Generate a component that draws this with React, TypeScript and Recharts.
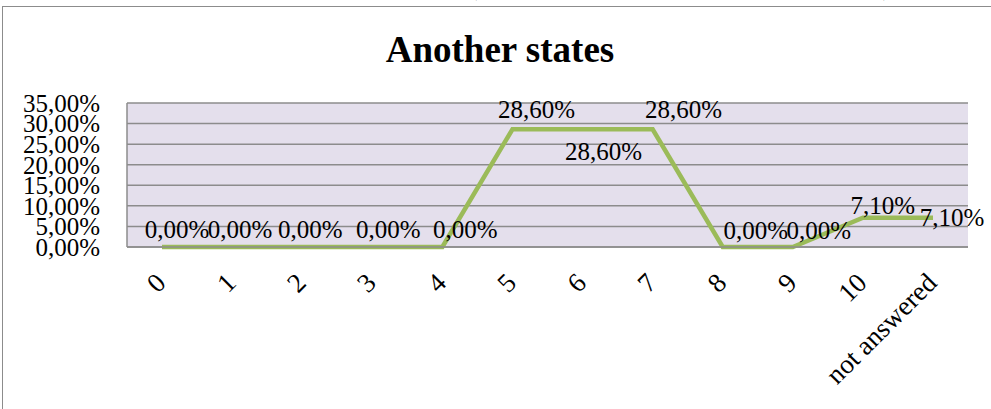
import { LineChart, Line, XAxis, YAxis, CartesianGrid, LabelList } from 'recharts'

const categories = ['0', '1', '2', '3', '4', '5', '6', '7', '8', '9', '10', 'not answered']
const shares = [0, 0, 0, 0, 0, 0.286, 0.286, 0.286, 0, 0, 0.071, 0.071]
const yTicks = [0, 0.05, 0.1, 0.15, 0.2, 0.25, 0.3, 0.35]

const data = categories.map((category, i) => ({ category, share: shares[i] }))

const FONT = '"Liberation Serif", "Times New Roman", serif'
const GRID = '#8c8c8c'

const pct = (v: number) => (v * 100).toFixed(2).replace('.', ',') + '%'

// Excel nudged the data labels around so they'd (mostly) not collide
const labelShift: [number, number][] = [
  [15, -18], [8, -18], [8, -18], [16, -18], [23, -18],
  [24, -20], [21, 22], [31, -20],
  [33, -17], [26, -17], [20, -12], [19, 0],
]

function PointLabel(props: any) {
  const { x, y, value, index } = props
  const [dx, dy] = labelShift[index] ?? [0, -18]
  return (
    <text
      x={x + dx}
      y={y + dy}
      textAnchor="middle"
      dominantBaseline="central"
      fontFamily={FONT}
      fontSize={25}
      fill="#000"
    >
      {pct(value)}
    </text>
  )
}

function SlantTick(props: any) {
  const { x, y, payload } = props
  const ax = x - 1
  const ay = y + 3
  return (
    <text
      x={ax}
      y={ay}
      transform={`rotate(-45, ${ax}, ${ay})`}
      textAnchor="end"
      dominantBaseline="central"
      fontFamily={FONT}
      fontSize={27}
      fill="#000"
    >
      {payload.value}
    </text>
  )
}

export default function App() {
  return (
    <div
      style={{
        position: 'absolute',
        left: 0,
        top: 0,
        width: 991,
        height: 409,
        overflow: 'hidden',
        background: '#fff',
      }}
    >
      {/* frame of the embedded chart object */}
      <div
        style={{
          position: 'absolute',
          left: 2,
          top: 6,
          width: 1100,
          height: 500,
          border: `1.5px solid ${GRID}`,
        }}
      />
      <svg
        width={991}
        height={409}
        style={{ position: 'absolute', left: 0, top: 0, overflow: 'visible' }}
      >
        <text x={40} y={-5} fontFamily={FONT} fontSize={25} fill="#000">
          students of engineering of Algeria country (respondents students from another states)
        </text>
        <text
          x={500}
          y={62}
          textAnchor="middle"
          fontFamily={FONT}
          fontWeight="bold"
          fontSize={37}
          fill="#000"
        >
          Another states
        </text>
      </svg>
      <div style={{ position: 'absolute', left: 0, top: 0 }}>
        <LineChart
          width={991}
          height={409}
          data={data}
          margin={{ top: 103, right: 23, bottom: 0, left: 0 }}
        >
          <CartesianGrid
            vertical={false}
            stroke={GRID}
            strokeWidth={1.5}
            fill="#e4dfec"
            fillOpacity={1}
          />
          <XAxis
            dataKey="category"
            padding={{ left: 35, right: 35 }}
            interval={0}
            tickLine={false}
            axisLine={{ stroke: GRID, strokeWidth: 1.5 }}
            height={162}
            tickMargin={22}
            tick={<SlantTick />}
          />
          <YAxis
            domain={[0, 0.35]}
            ticks={yTicks}
            interval={0}
            tickFormatter={pct}
            tickLine={false}
            axisLine={{ stroke: GRID, strokeWidth: 1.5 }}
            width={127}
            tickMargin={21}
            tick={{ fill: '#000', fontSize: 25, fontFamily: FONT }}
          />
          <Line
            type="linear"
            dataKey="share"
            stroke="#9bbb59"
            strokeWidth={4.5}
            dot={false}
            isAnimationActive={false}
          >
            <LabelList dataKey="share" content={<PointLabel />} />
          </Line>
        </LineChart>
      </div>
    </div>
  )
}
